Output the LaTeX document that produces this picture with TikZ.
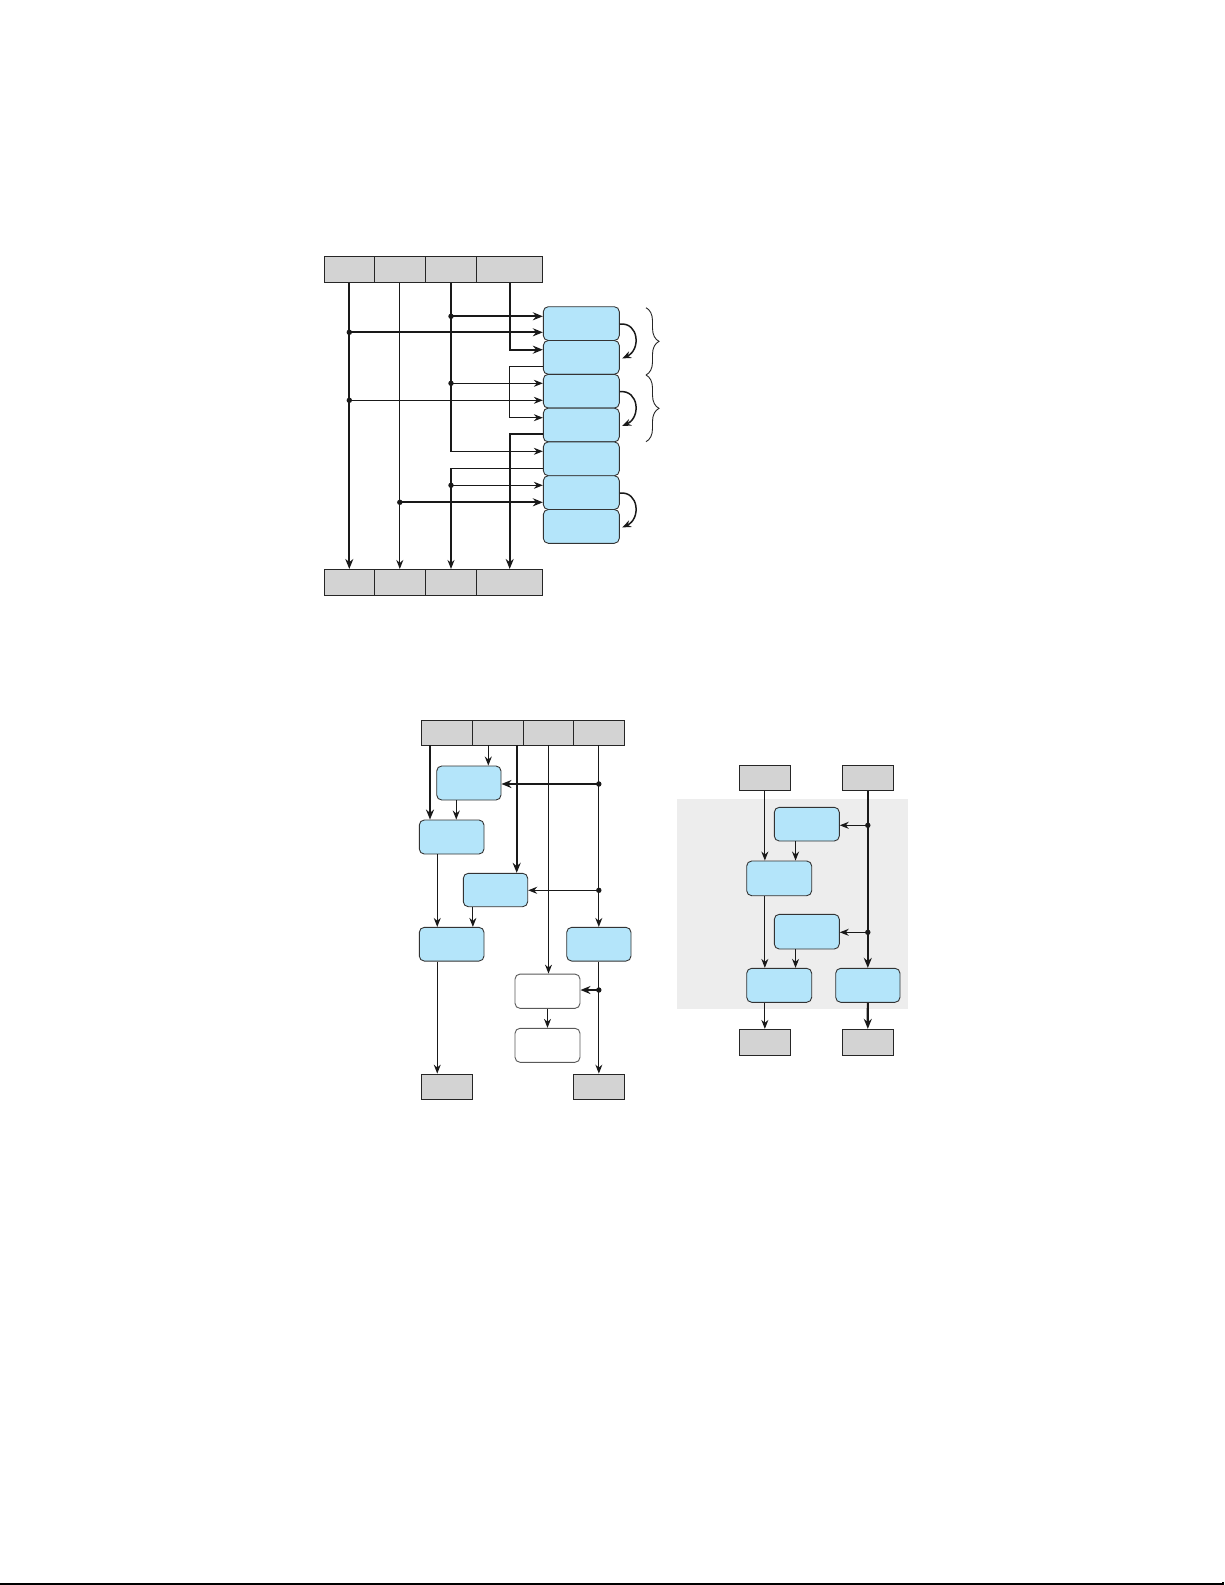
\documentclass[tikz,border=0pt]{standalone}
\usetikzlibrary{arrows.meta,calc,decorations.pathreplacing}
\definecolor{boxblue}{RGB}{180,229,250}
\definecolor{bargray}{RGB}{211,211,211}
\definecolor{bggray}{RGB}{237,237,237}
\begin{document}
\begin{tikzpicture}[x=1pt,y=-1pt,
  bbox/.style={draw=black!80,line width=0.9pt,fill=boxblue,rounded corners=5pt,inner sep=0pt,minimum width=64.5pt,minimum height=34pt},
  stackbox/.style={bbox,minimum width=76pt,minimum height=33.8pt},
  wbox/.style={bbox,fill=white,draw=black!65},
  barcell/.style={draw=black!85,line width=0.9pt,fill=bargray,inner sep=0pt,minimum height=25.6pt},
  tline/.style={line width=1.15pt,draw=black!90},
  kline/.style={line width=2.2pt,draw=black!90},
  tarr/.style={tline,-{Stealth[length=9pt,width=7pt]}},
  karr/.style={kline,-{Stealth[length=10pt,width=8pt]}},
  carr/.style={line width=1.5pt,draw=black!90,-{Stealth[length=9pt,width=7pt]}},
  dotfill/.style={fill=black!90},
  bracestyle/.style={draw=black!85,line width=0.9pt,decorate,decoration={brace,amplitude=13pt}}
]
\useasboundingbox (0,0) rectangle (1225,1585);

% ================= top diagram =================
\node[barcell,minimum width=50pt,minimum height=26.3pt] (tA) at (349.3,269.2) {};
\node[barcell,minimum width=51pt,minimum height=26.3pt] (tB) at (399.8,269.2) {};
\node[barcell,minimum width=51.4pt,minimum height=26.3pt] (tC) at (451,269.2) {};
\node[barcell,minimum width=66pt,minimum height=26.3pt] (tD) at (509.7,269.2) {};
\node[barcell,minimum width=50pt] (bA) at (349.3,582.2) {};
\node[barcell,minimum width=51pt] (bB) at (399.8,582.2) {};
\node[barcell,minimum width=51.4pt] (bC) at (451,582.2) {};
\node[barcell,minimum width=66pt] (bD) at (509.7,582.2) {};

\node[stackbox] (r1) at (581.3,323.6) {};
\node[stackbox] (r2) at (581.3,357.4) {};
\node[stackbox] (r3) at (581.3,391.2) {};
\node[stackbox] (r4) at (581.3,425.0) {};
\node[stackbox] (r5) at (581.3,458.8) {};
\node[stackbox] (r6) at (581.3,492.6) {};
\node[stackbox] (r7) at (581.3,526.4) {};

\coordinate (p1) at (451,316.3);
\coordinate (p2) at (349.3,332.3);
\coordinate (p3) at (509.7,349.7);
\coordinate (p4) at (509.7,366.3);
\coordinate (p5) at (451,383.3);
\coordinate (p6) at (349.3,400.3);
\coordinate (p7) at (509.7,417.7);
\coordinate (p8) at (509.7,434.3);
\coordinate (p9) at (451,451.3);
\coordinate (p10) at (451,468.3);
\coordinate (p11) at (451,485.3);
\coordinate (p12) at (399.8,502.3);

\draw[karr] (tA.south) -- (bA.north);
\draw[tarr] (tB.south) -- (bB.north);
\draw[tarr] (tC.south) -- (p9) -- (p9 -| r5.west);
\draw[tarr] (p10 -| r5.west) -- (p10) -- (bC.north);
\draw[karr] (tD.south) -- (p3) -- (p3 -| r2.west);
\draw[tarr] (p4 -| r2.west) -- (p4) -- (p7) -- (p7 -| r4.west);
\draw[karr] (p8 -| r4.west) -- (p8) -- (bD.north);

\draw[karr] (p1) -- (p1 -| r1.west);
\draw[karr] (p2) -- (p2 -| r1.west);
\draw[tarr] (p5) -- (p5 -| r3.west);
\draw[tarr] (p6) -- (p6 -| r3.west);
\draw[tarr] (p11) -- (p11 -| r6.west);
\draw[karr] (p12) -- (p12 -| r6.west);

\foreach \p in {p1,p2,p5,p6,p11,p12} \fill[dotfill] (\p) circle (2.7pt);

\draw[carr] ($(r1.east)+(0,0.5)$) .. controls (639,322) and (641,350) .. ($(r2.east)+(2.4,1)$);
\draw[carr] ($(r3.east)+(0,0.5)$) .. controls (639,389.6) and (641,417.6) .. ($(r4.east)+(2.4,1)$);
\draw[carr] ($(r6.east)+(0,0.5)$) .. controls (639,491) and (641,519) .. ($(r7.east)+(2.4,1)$);

\coordinate (br1) at (646,307.7);
\coordinate (br2) at (646,375);
\coordinate (br3) at (646,441.7);
\draw[bracestyle] (br1) -- (br2);
\draw[bracestyle] (br2) -- (br3);

% ================= lower left diagram =================
\node[barcell,minimum width=51.7pt,minimum height=25pt] (uA) at (446.85,732.5) {};
\node[barcell,minimum width=51pt,minimum height=25pt] (uB) at (498.2,732.5) {};
\node[barcell,minimum width=49.6pt,minimum height=25pt] (uC) at (548.5,732.5) {};
\node[barcell,minimum width=51pt,minimum height=25pt] (uD) at (598.8,732.5) {};

\node[bbox,minimum width=64.3pt] (vA) at (468.85,783) {};
\node[bbox,minimum width=64.7pt] (vB) at (451.65,837) {};
\node[bbox,minimum width=64.4pt,minimum height=33.4pt] (vC) at (495.5,890) {};
\node[bbox,minimum width=64.7pt,minimum height=33.7pt] (vD) at (451.65,944.2) {};
\node[bbox,minimum width=64.3pt,minimum height=33.7pt] (vE) at (598.85,944.2) {};
\node[wbox,minimum width=65pt,minimum height=34.3pt] (vF) at (547.5,991.2) {};
\node[wbox,minimum width=65pt,minimum height=34pt] (vG) at (547.5,1045.3) {};
\node[barcell,minimum width=50.6pt,minimum height=25.3pt] (wL) at (447,1086.7) {};
\node[barcell,minimum width=51pt,minimum height=25.3pt] (wR) at (598.8,1086.7) {};

\coordinate (a1) at (430,745);
\coordinate (a2) at (488.3,745);
\coordinate (a3) at (516.7,745);
\draw[karr] (a1) -- (a1 |- vB.north);
\draw[tarr] (a2) -- (a2 |- vA.north);
\draw[karr] (a3) -- (a3 |- vC.north);
\draw[tarr] (uC.south) -- (uC.south |- vF.north);
\draw[tarr] (uD.south) -- (uD.south |- vE.north);

\coordinate (e1) at (598.8,784);
\coordinate (e2) at (598.8,890.3);
\coordinate (e3) at (598.8,990);
\draw[karr] (e1) -- (e1 -| vA.east);
\draw[tarr] (e2) -- (e2 -| vC.east);
\draw[tarr] (vE.south) -- (vE.south |- wR.north);
\draw[karr] (e3) -- (e3 -| vF.east);
\foreach \p in {e1,e2,e3} \fill[dotfill] (\p) circle (2.7pt);

\coordinate (g1) at ($(vA.south west)+(20,0)$);
\coordinate (g2) at ($(vB.south west)+(18.4,0)$);
\coordinate (g3) at ($(vC.south west)+(10,0)$);
\coordinate (g4) at ($(vD.south west)+(18.4,0)$);
\draw[tarr] (g1) -- (g1 |- vB.north);
\draw[tarr] (g2) -- (g2 |- vD.north);
\draw[tarr] (g3) -- (g3 |- vD.north);
\draw[tarr] (g4) -- (g4 |- wL.north);
\draw[tarr] (vF.south) -- (vG.north);

% ================= right diagram =================
\fill[bggray] (677.3,799.3) rectangle (908,1009.3);
\node[barcell,minimum width=51.7pt,minimum height=25.7pt] (gL) at (764.85,777.85) {};
\node[barcell,minimum width=51pt,minimum height=25.7pt] (gR) at (867.8,777.85) {};
\node[bbox,minimum width=65pt,minimum height=33.7pt] (vI) at (806.8,824.15) {};
\node[bbox,minimum width=65pt,minimum height=34.7pt] (vH) at (779.2,878.35) {};
\node[bbox,minimum width=65pt,minimum height=34.7pt] (vJ) at (806.8,931.65) {};
\node[bbox,minimum width=65pt,minimum height=34pt] (vK) at (779.2,985.3) {};
\node[bbox,minimum width=64.3pt,minimum height=34pt] (vL) at (867.85,985.3) {};
\node[barcell,minimum width=51.7pt,minimum height=25.7pt] (hL) at (764.85,1042.15) {};
\node[barcell,minimum width=51pt,minimum height=25.7pt] (hR) at (867.8,1042.15) {};

\draw[tarr] (gL.south) -- (gL.south |- vH.north);
\coordinate (h1) at (gL.south |- vH.south);
\draw[tarr] (h1) -- (h1 |- vK.north);
\draw[tarr] (hL.north |- vK.south) -- (hL.north);
\coordinate (i1) at ($(vI.south west)+(21.7,0)$);
\coordinate (j1) at ($(vJ.south west)+(21.7,0)$);
\draw[tarr] (i1) -- (i1 |- vH.north);
\draw[tarr] (j1) -- (j1 |- vK.north);
\draw[karr] (gR.south) -- (gR.south |- vL.north);
\coordinate (k1) at (867.8,825.3);
\coordinate (k2) at (867.8,932.3);
\draw[tarr] (k1) -- (k1 -| vI.east);
\draw[tarr] (k2) -- (k2 -| vJ.east);
\draw[karr] (vL.south) -- (hR.north);
\foreach \p in {k1,k2} \fill[dotfill] (\p) circle (2.7pt);

% bottom rule
\draw[line width=1.3pt] (0,1584) -- (1223,1584) -- (1223,1581.5);
\end{tikzpicture}
\end{document}
